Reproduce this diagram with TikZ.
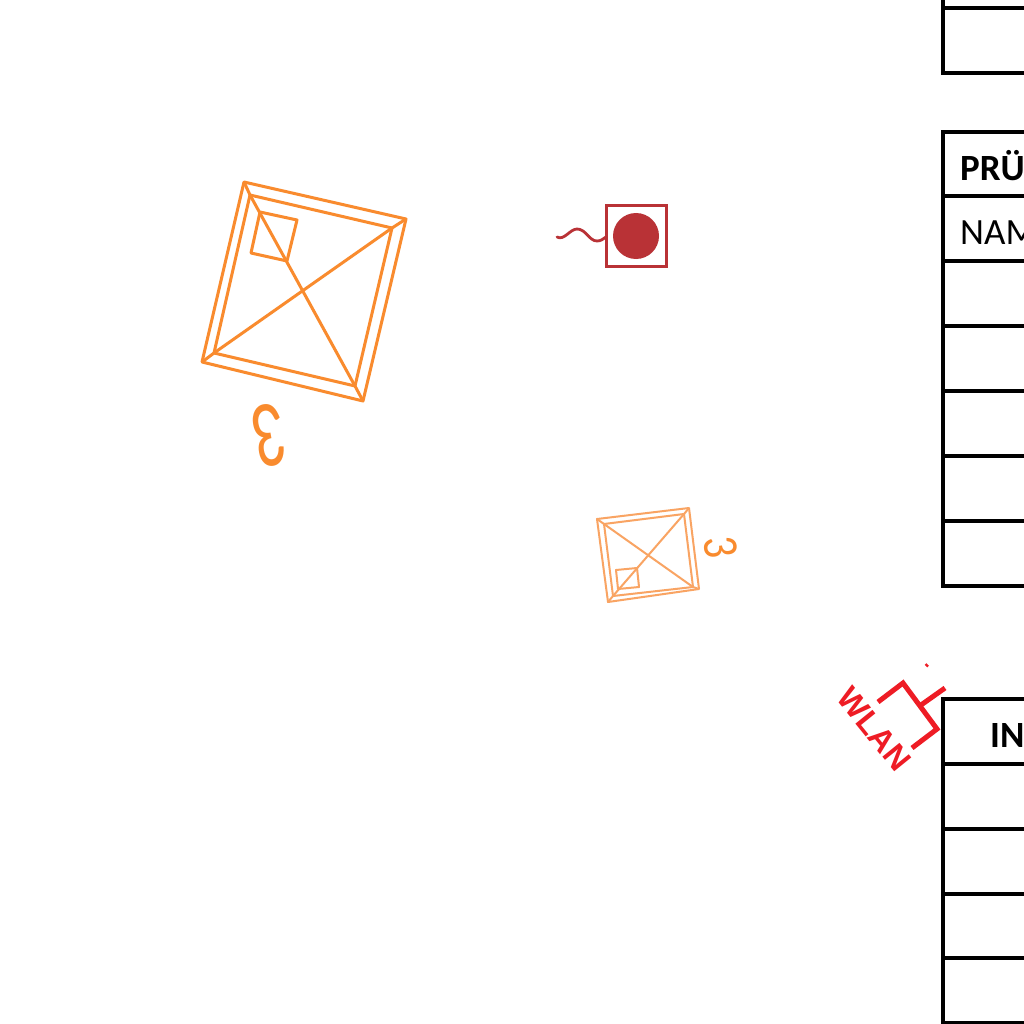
\documentclass[tikz,border=0pt]{standalone}
\usepackage{fontspec}
\setmainfont{Carlito}
\newfontfamily\wlanfont{Liberation Sans}[BoldFont={Liberation Sans Bold}]
\definecolor{orA}{HTML}{F98B2E}
\definecolor{orB}{HTML}{F9A463}
\definecolor{brick}{HTML}{B93236}
\definecolor{wlanred}{HTML}{EE1C25}
\tikzset{
  rule/.style={line width=3.6pt,black,line cap=rect},
  bigsq/.style={orA,line width=3pt,line join=round},
  smallsq/.style={orB,line width=2pt,line join=round},
  redline/.style={wlanred,line width=5pt},
  cell/.style={anchor=base west,inner sep=0pt,font=\fontsize{37}{37}\selectfont}
}
\begin{document}
\begin{tikzpicture}[x=1pt,y=-1pt]
\useasboundingbox (0,0) rectangle (1024,1024);
\clip (0,0) rectangle (1024,1024);
\fill[white] (0,0) rectangle (1024,1024);
% large square
\draw[bigsq] (244,182) -- (406,219) -- (363,401) -- (202,362) -- cycle;
\draw[bigsq] (250,195) -- (392,228) -- (355,386) -- (214,353) -- cycle;
\draw[bigsq] (260,212) -- (297,220) -- (287,261) -- (251,253) -- cycle;
\draw[bigsq] (244,182) -- (250,195) -- (355,386) -- (363,401);
\draw[bigsq] (406,219) -- (392,228) -- (214,353) -- (202,362);
\node[text=orA,rotate=190,inner sep=0pt,font=\fontsize{95}{95}\selectfont] (digitA) at (270,435) {\scalebox{.68}[1]{3}};
% small square
\draw[smallsq] (597,519) -- (689,508) -- (699,589) -- (608,602) -- cycle;
\draw[smallsq] (604,524) -- (684,514) -- (693,587) -- (613,596) -- cycle;
\draw[smallsq] (616,570) -- (637,568) -- (639,587) -- (618,589) -- cycle;
\draw[smallsq] (597,519) -- (604,524) -- (693,587) -- (699,589);
\draw[smallsq] (689,508) -- (684,514) -- (613,596) -- (608,602);
\node[text=orA,rotate=-83,inner sep=0pt,font=\fontsize{50}{50}\selectfont] (digitB) at (721,547) {\scalebox{.85}[1]{3}};
% red detector
\draw[brick,line width=3pt] (606,206) rectangle (666,266);
\fill[brick] (636,236) circle (23);
\draw[brick,line width=2.8pt,line cap=round] (557,237) .. controls (564,241) and (570,229) .. (577,229) .. controls (586,229) and (589,241) .. (597,241) .. controls (601,241) and (603,239) .. (606,237);
% WLAN
\draw[redline,line join=miter] (878,702) -- (903,683) -- (937,729) -- (912,748);
\draw[redline] (921,705) -- (945,688);
\draw[wlanred,line width=2.4pt] (925.5,664) -- (928,666.5);
\node[text=wlanred,rotate=-51,inner sep=0pt,font=\fontsize{32}{32}\selectfont\wlanfont\bfseries] (wlan) at (874,729) {WLAN};
% tables
\draw[rule] (943,0) -- (943,73) -- (1026,73);
\draw[rule] (943,8) -- (1026,8);
\draw[rule] (1026,132) -- (943,132) -- (943,586) -- (1026,586);
\foreach \yy in {196,261,326,391,456,521} \draw[rule] (943,\yy) -- (1026,\yy);
\draw[rule] (1026,699) -- (943,699) -- (943,1023) -- (1026,1023);
\foreach \yy in {764,829,894,958} \draw[rule] (943,\yy) -- (1026,\yy);
\node[cell,font=\fontsize{37}{37}\selectfont\bfseries] (hdrA) at (960,181) {PRÜ};
\node[cell] (nam) at (960,244) {NAM};
\node[cell,font=\fontsize{37}{37}\selectfont\bfseries] (hdrB) at (990,747) {IN};
\end{tikzpicture}
\end{document}
